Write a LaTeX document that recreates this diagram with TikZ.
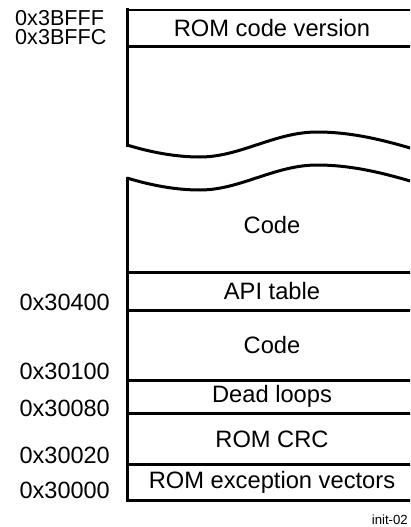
\documentclass[tikz,border=0pt]{standalone}
\usepackage{fontspec}
\setmainfont{Liberation Sans}
\usetikzlibrary{positioning}

\tikzset{
  memline/.style={line width=3pt, line cap=rect, line join=miter},
  regionlabel/.style={font=\fontsize{23.7}{26}\selectfont, inner sep=0pt},
  addrlabel/.style={font=\fontsize{23.5}{26}\selectfont, inner sep=0pt, anchor=east},
  toplabel/.style={font=\fontsize{21.6}{24}\selectfont, inner sep=0pt, anchor=west},
}

\begin{document}
\begin{tikzpicture}[x=1pt,y=-1pt]
\useasboundingbox (0,0) rectangle (410,527);
\clip (0,0) rectangle (410,527);

% outline of the map
\coordinate (topL) at (127,10);
\coordinate (topR) at (417,10);
\coordinate (botL) at (127,500);
\coordinate (botR) at (417,500);
\coordinate (breakhiL) at (127,145);
\coordinate (breakloL) at (127,178);

\draw[line width=2.6pt] (topL) -- (topR);
\draw[memline] (topL) -- (breakhiL);
\draw[memline] (breakloL) -- (botL) -- (botR);

% torn edges
\foreach \dy/\name in {0/breakhiL, 33/breakloL} {
  \draw[memline, line cap=butt] (\name)
    .. controls (150,152+\dy) and (175,157+\dy) .. (200,157+\dy)
    .. controls (240,157+\dy) and (275,132+\dy) .. (317,132+\dy)
    .. controls (355,132+\dy) and (390,142+\dy) .. (417,150+\dy);
}

% region boundaries
\foreach \name/\y in {vers/47, codetop/272, api/310, dead/380, crc/413, vec/464} {
  \coordinate (\name L) at (127,\y);
  \coordinate (\name R) at (417,\y);
  \draw[memline] (\name L) -- (\name R);
}

% region names
\node[regionlabel] (romver) at (272,28.5) {ROM code version};
\node[regionlabel] (codehi) at (272,225) {Code};
\node[regionlabel] (apitab) at (272,291) {API table};
\node[regionlabel] (codelo) at (272,345) {Code};
\node[regionlabel] (deadloops) at (272,396) {Dead loops};
\node[regionlabel] (romcrc) at (272,439) {ROM CRC};
\node[regionlabel] (romvec) at (272,482) {ROM exception vectors};

% addresses
\node[toplabel] (a3bfff) at (15,18) {0x3BFFF};
\node[toplabel] (a3bffc) at (15,37) {0x3BFFC};
\node[addrlabel] (a30400) at (110,302) {0x30400};
\node[addrlabel] (a30100) at (110,371.5) {0x30100};
\node[addrlabel] (a30080) at (110,408) {0x30080};
\node[addrlabel] (a30020) at (110,455) {0x30020};
\node[addrlabel] (a30000) at (110,490) {0x30000};

\node[font=\fontsize{13.2}{15}\selectfont, inner sep=0pt, anchor=east] (figid) at (408,520) {init-02};
\end{tikzpicture}
\end{document}
